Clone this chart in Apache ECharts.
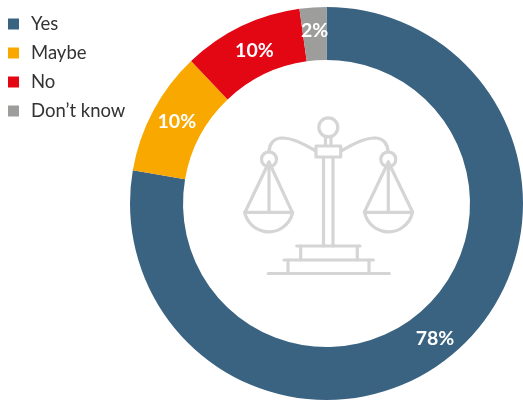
<!DOCTYPE html>
<html><head><meta charset="utf-8">
<style>html,body{margin:0;padding:0;background:#fff}#c{width:523px;height:403px}</style>
<script src="https://cdn.jsdelivr.net/npm/echarts@6/dist/echarts.min.js"></script>
</head><body><div id="c"></div>
<script>
const categories = ['Yes', 'Maybe', 'No', 'Don\u2019t know'];
const seriesValues = [77.7, 10.2, 9.9, 2.2];
const colors = ['#3A6382', '#F9A800', '#E30613', '#9D9D9C'];
const labelNudges = [[-3,3],[3,0],[3,3],[0,0]];

const iconColor = '#D5D5D5';
const iconLines = [
  [[323.5,157],[323.5,246]], [[333,157],[333,246]],
  [[325.5,136],[325.5,146]], [[331,136],[331,146]],
  [[296.7,246],[360,246]], [[300.7,246],[300.7,260]], [[357.3,246],[357.3,260]],
  [[284,260],[373.3,260]], [[288,260],[288,273.5]], [[369,260],[369,273.5]],
  [[268.3,273.5],[389.3,273.5]],
  [[269,162],[245,212.3],[292.3,212.3],[269,162]], [[269,162],[269,212.3]],
  [[388.3,162],[364.3,212.3],[412.7,212.3],[388.3,162]], [[388.3,162],[388.3,212.3]]
];
const iconCircles = [[328.3,127.3,9.5],[269,159.3,7.5],[388.3,159.3,7.5]];
const iconArms = [
  [316,151,302,143,292,138,282,138],
  [282,138,273,138,269,145,269,152],
  [341,151,355,143,365,138,375,138],
  [375,138,384,138,388,145,388,152]
];
const iconBowls = [[268.7,207.3,24.5],[388.5,207.3,24.5]];
const style = {fill:'none',stroke:iconColor,lineWidth:3.2,lineCap:'round',lineJoin:'round'};
const elements = [];
iconLines.forEach(p=>elements.push({type:'polyline',shape:{points:p},style}));
iconCircles.forEach(c=>elements.push({type:'circle',shape:{cx:c[0],cy:c[1],r:c[2]},style}));
iconArms.forEach(a=>elements.push({type:'bezierCurve',shape:{x1:a[0],y1:a[1],cpx1:a[2],cpy1:a[3],cpx2:a[4],cpy2:a[5],x2:a[6],y2:a[7]},style}));
iconBowls.forEach(b=>elements.push({type:'arc',shape:{cx:b[0],cy:b[1],r:b[2],startAngle:0.2,endAngle:Math.PI-0.2,clockwise:true},style}));
elements.push({type:'rect',shape:{x:316,y:146,width:24.7,height:11},style:{fill:'#fff',stroke:iconColor,lineWidth:3.2,lineJoin:'round'}});

const chart = echarts.init(document.getElementById('c'),null,{renderer:'canvas'});
chart.setOption({
  animation:false,
  color:colors,
  legend:{
    orient:'vertical',left:8,top:14.5,padding:0,icon:'rect',itemWidth:11,itemHeight:11,itemGap:10,
    selectedMode:false,data:categories,
    textStyle:{fontFamily:'Lato',fontSize:18.5,color:'#333',padding:[0,0,0,7]}
  },
  graphic:{elements},
  series:[{
    type:'pie',center:[326.5,203.5],radius:[143.5,196.5],startAngle:90,clockwise:true,
    label:{show:true,position:'inside',formatter:p=>Math.round(p.value)+'%',color:'#fff',fontFamily:'Lato',fontSize:19.5,fontWeight:700},
    labelLayout:p=>({dx:labelNudges[p.dataIndex][0],dy:labelNudges[p.dataIndex][1]}),
    labelLine:{show:false},
    emphasis:{disabled:true},
    data:categories.map((n,i)=>({name:n,value:seriesValues[i]}))
  }]
});
</script></body></html>
